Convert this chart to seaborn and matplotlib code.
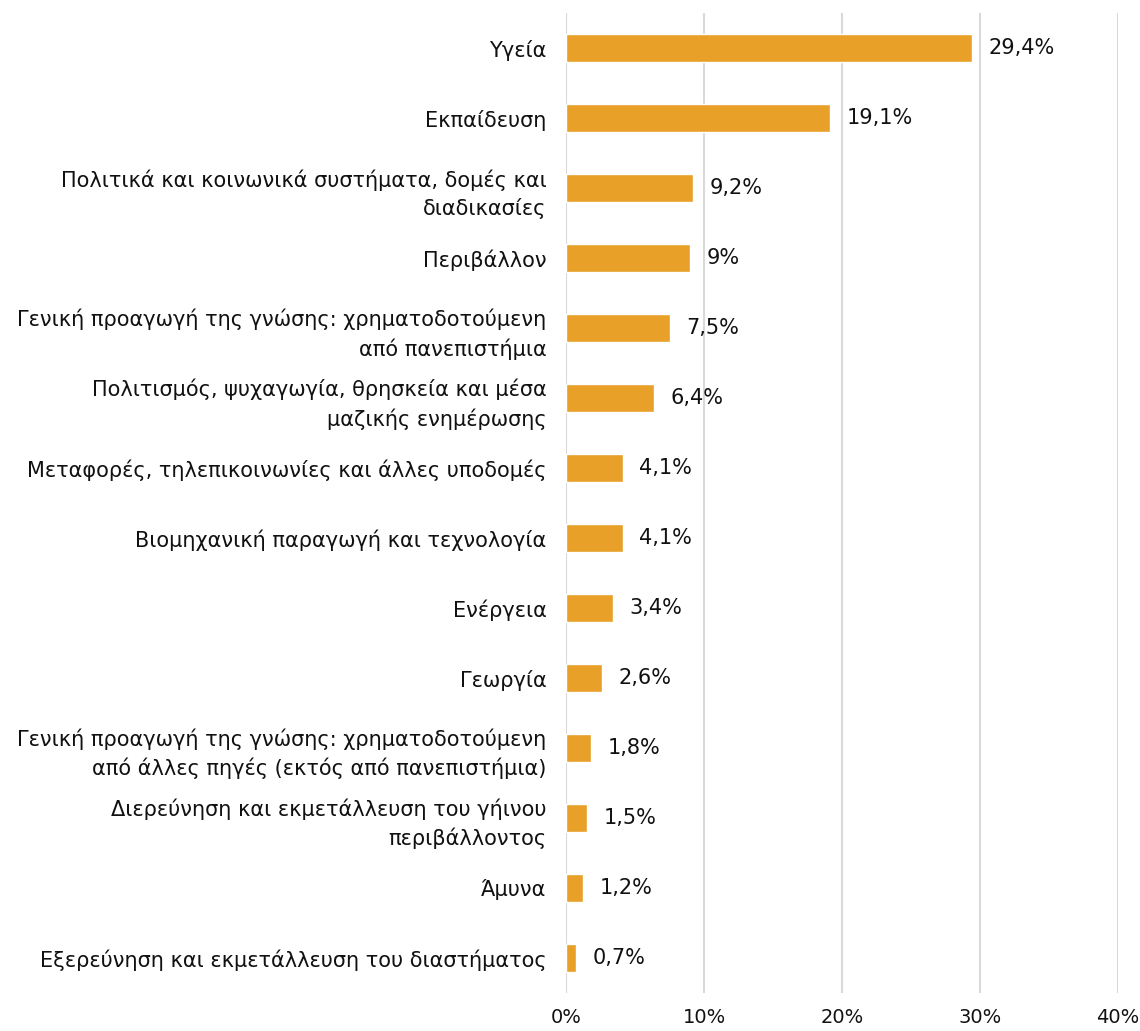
import matplotlib
matplotlib.use("Agg")
import matplotlib.pyplot as plt
import seaborn as sns
import pandas as pd

# Data
categories = [
    "Υγεία",
    "Εκπαίδευση",
    "Πολιτικά και κοινωνικά συστήματα, δομές και\nδιαδικασίες",
    "Περιβάλλον",
    "Γενική προαγωγή της γνώσης: χρηματοδοτούμενη\nαπό πανεπιστήμια",
    "Πολιτισμός, ψυχαγωγία, θρησκεία και μέσα\nμαζικής ενημέρωσης",
    "Μεταφορές, τηλεπικοινωνίες και άλλες υποδομές",
    "Βιομηχανική παραγωγή και τεχνολογία",
    "Ενέργεια",
    "Γεωργία",
    "Γενική προαγωγή της γνώσης: χρηματοδοτούμενη\nαπό άλλες πηγές (εκτός από πανεπιστήμια)",
    "Διερεύνηση και εκμετάλλευση του γήινου\nπεριβάλλοντος",
    "Άμυνα",
    "Εξερεύνηση και εκμετάλλευση του διαστήματος",
]
values = [29.4, 19.1, 9.2, 9.0, 7.5, 6.4, 4.1, 4.1, 3.4, 2.6, 1.8, 1.5, 1.2, 0.7]
value_labels = ["29,4%", "19,1%", "9,2%", "9%", "7,5%", "6,4%", "4,1%", "4,1%",
                "3,4%", "2,6%", "1,8%", "1,5%", "1,2%", "0,7%"]
tick_values = [0, 10, 20, 30, 40]
tick_labels = ["0%", "10%", "20%", "30%", "40%"]

df = pd.DataFrame({"category": categories, "value": values})

sns.set_style("white")
plt.rcParams["font.family"] = ["DejaVu Sans"]

fig = plt.figure(figsize=(11.4, 10.31), dpi=100)
ax = fig.add_axes([0.4965, 0.037, 0.4842, 0.950])

sns.barplot(data=df, x="value", y="category", orient="h", color="#E8A028",
            width=0.4, saturation=1, ax=ax, zorder=3)

for i, (v, lab) in enumerate(zip(values, value_labels)):
    ax.annotate(lab, (v, i), xytext=(12, 0), textcoords="offset points",
                va="center", ha="left", fontsize=15, color="#111111")

ax.set_xlim(0, 40)
ax.set_ylim(13.5, -0.5)
ax.set_xticks(tick_values)
ax.set_xticklabels(tick_labels, fontsize=14, color="#111111")
ax.set_yticks(range(len(categories)))
ax.set_yticklabels(categories, fontsize=15, linespacing=1.45, color="#111111")
ax.tick_params(axis="x", length=0, pad=11)
ax.tick_params(axis="y", length=0, pad=14)
ax.set_xlabel("")
ax.set_ylabel("")
ax.grid(axis="x", color="#d9d9d9", linewidth=1.5, zorder=0)
ax.grid(axis="y", visible=False)
for s in ax.spines.values():
    s.set_visible(False)

fig.savefig("out.png", dpi=100)
